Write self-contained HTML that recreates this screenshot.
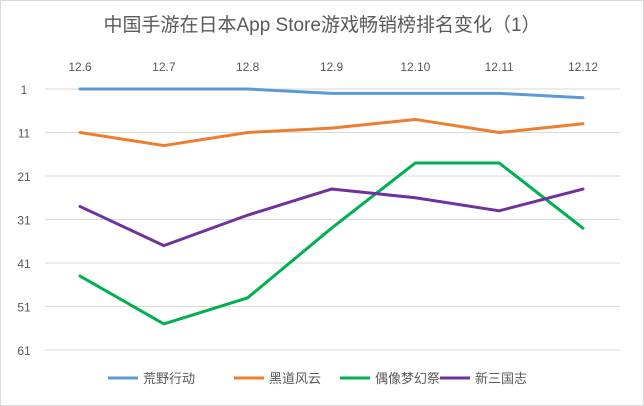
<!DOCTYPE html>
<html><head><meta charset="utf-8"><style>
body{margin:0;background:#fff;}
svg{display:block;font-family:"Liberation Sans","Noto Sans CJK SC",sans-serif;}
</style></head><body>
<svg width="644" height="406" viewBox="0 0 644 406">
<rect x="0.5" y="0.5" width="643" height="405" fill="#fff" stroke="#d9d9d9"/>
<text x="322" y="31" text-anchor="middle" font-size="19" fill="#595959">中国手游在日本App Store游戏畅销榜排名变化（1）</text>
<g id="grid"></g><g id="xt"></g><g id="yt"></g><g id="series"></g><g id="legend"></g>
</svg>
<script>
const categories=["12.6","12.7","12.8","12.9","12.10","12.11","12.12"];
const yTicks=[1,11,21,31,41,51,61];
const seriesNames=["荒野行动","黑道风云","偶像梦幻祭","新三国志"];
const s1=[1,1,1,2,2,2,3];
const s2=[11,14,11,10,8,11,9];
const s3=[44,55,49,33,18,18,33];
const s4=[28,37,30,24,26,29,24];
const seriesData=[s1,s2,s3,s4];
const colors=["#5b9bd5","#ed7d31","#00b050","#7030a0"];
const NS="http://www.w3.org/2000/svg";
const x0=80,x1=583,yTop=89,yBot=350,left=45,right=620;
const xs=i=>x0+i*(x1-x0)/(categories.length-1);
const ys=v=>yTop+(v-1)*(yBot-yTop)/60;
function mk(t,a,p){const e=document.createElementNS(NS,t);for(const k in a)e.setAttribute(k,a[k]);p.appendChild(e);return e;}
const g=document.getElementById('grid'),yt=document.getElementById('yt'),xt=document.getElementById('xt');
yTicks.forEach(v=>{const l=mk('line',{x1:left,x2:right,y1:ys(v),y2:ys(v),stroke:'#d9d9d9','stroke-width':1},g);


const t=mk('text',{x:24,y:ys(v)+5,'text-anchor':'middle','font-size':12,fill:'#595959'},yt);t.textContent=v;

});
categories.forEach((c,i)=>{const t=mk('text',{x:xs(i),y:71,'text-anchor':'middle','font-size':12,fill:'#595959'},xt);t.textContent=c;

});
const sg=document.getElementById('series');
seriesData.forEach((d,k)=>{const p=mk('polyline',{points:d.map((v,i)=>xs(i)+','+ys(v)).join(' '),fill:'none',stroke:colors[k],'stroke-width':3,'stroke-linejoin':'round','stroke-linecap':'round'},sg);

});
const lg=document.getElementById('legend');
const lx=[108,234,340,440];
seriesNames.forEach((n,k)=>{const gg=mk('g',{},lg);


mk('line',{x1:lx[k],x2:lx[k]+30,y1:378,y2:378,stroke:colors[k],'stroke-width':3},gg);
const t=mk('text',{x:lx[k]+35,y:383,'font-size':13,fill:'#595959'},gg);t.textContent=n;});
</script>
</body></html>
